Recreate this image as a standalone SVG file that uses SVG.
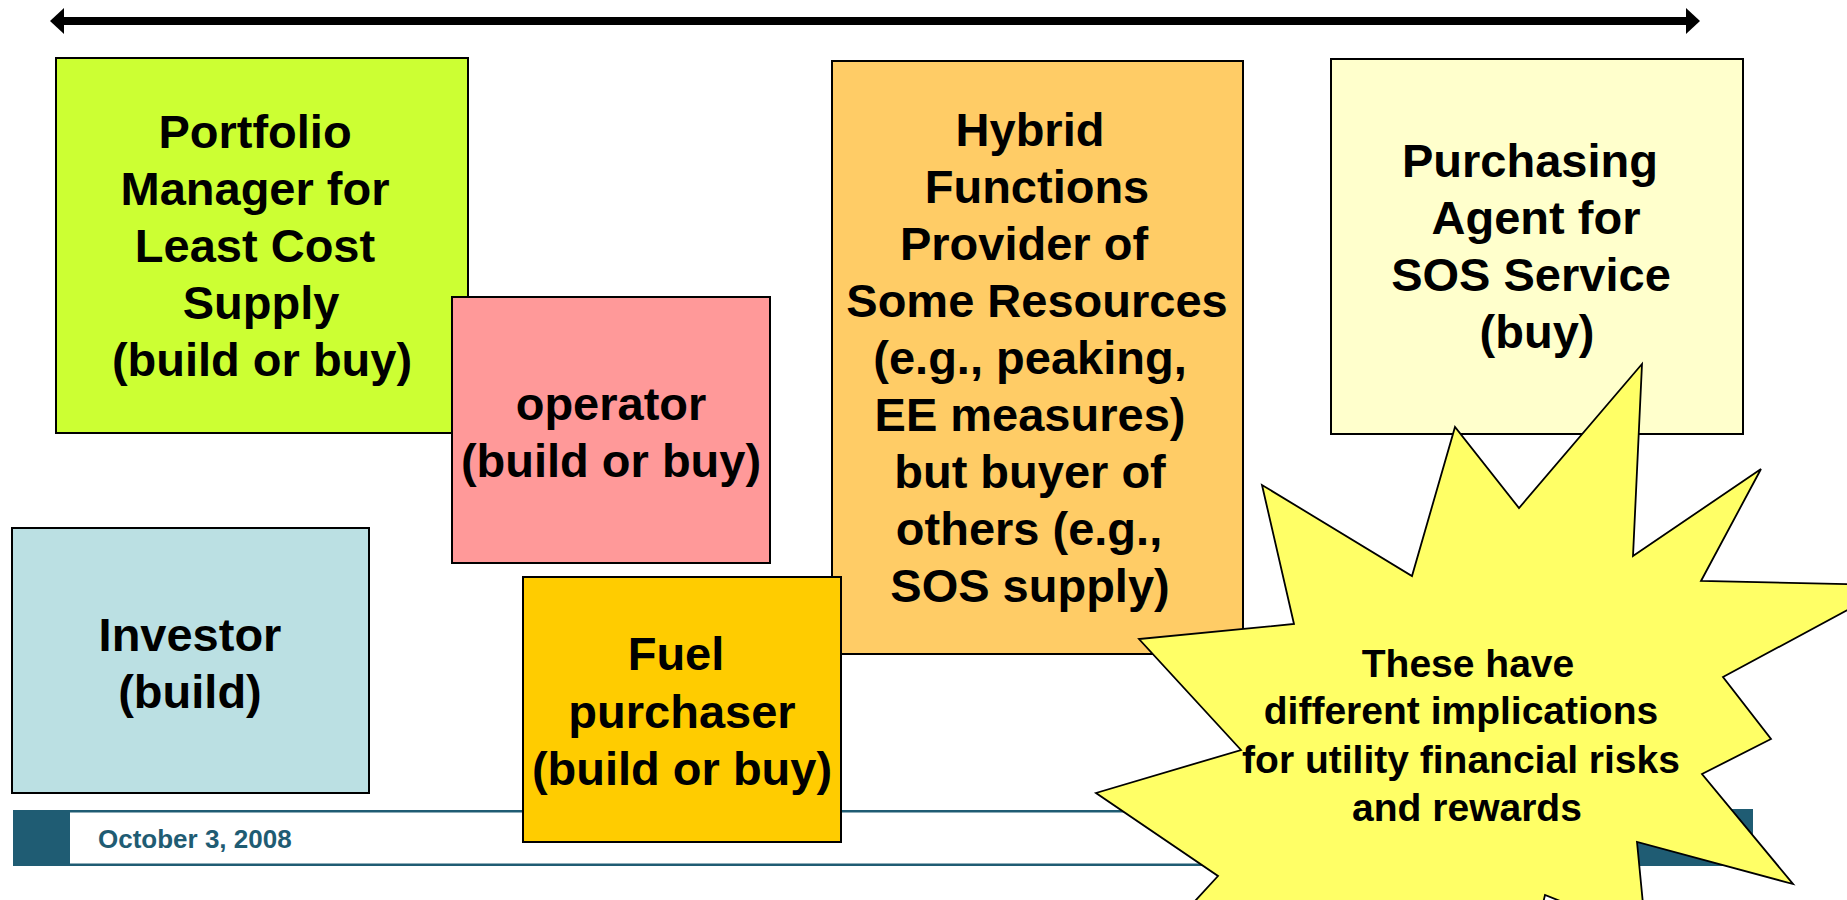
<svg xmlns="http://www.w3.org/2000/svg" width="1847" height="900" viewBox="0 0 1847 900">
  <style>
    .box { stroke: #000; stroke-width: 2; }
    .t { font-family: "Liberation Sans", Arial, sans-serif; font-weight: bold; font-size: 47px; fill: #000; text-anchor: middle; }
    .burst-t { font-family: "Liberation Sans", Arial, sans-serif; font-weight: bold; font-size: 39px; fill: #000; text-anchor: middle; }
    .foot { fill: #1f5c73; }
    .foot-t { font-family: "Liberation Sans", Arial, sans-serif; font-weight: bold; font-size: 26px; fill: #1f5c73; }
  </style>

  <!-- footer band -->
  <g id="footer">
    <rect class="foot" x="13" y="810" width="1740" height="2.5"/>
    <rect class="foot" x="13" y="863.5" width="1740" height="2.5"/>
    <rect class="foot" x="13" y="810" width="57" height="56"/>
    <rect class="foot" x="1600" y="809" width="153" height="57"/>
    <text class="foot-t" x="98" y="848">October 3, 2008</text>
  </g>

  <!-- double-headed spectrum arrow -->
  <g id="connectors">
    <line x1="62" y1="21" x2="1688" y2="21" stroke="#000" stroke-width="8"/>
    <polygon points="50,21 64,8 64,34" fill="#000"/>
    <polygon points="1700,21 1686,8 1686,34" fill="#000"/>
  </g>

  <g id="portfolio-manager">
    <rect class="box" x="56" y="58" width="412" height="375" fill="#ccff33"/>
    <text class="t" x="255" y="148">Portfolio</text>
    <text class="t" x="255" y="205">Manager for</text>
    <text class="t" x="255" y="262">Least Cost</text>
    <text class="t" x="261" y="319">Supply</text>
    <text class="t" x="262" y="376">(build or buy)</text>
  </g>

  <g id="operator">
    <rect class="box" x="452" y="297" width="318" height="266" fill="#ff9999"/>
    <text class="t" x="611" y="420">operator</text>
    <text class="t" x="611" y="477">(build or buy)</text>
  </g>

  <g id="investor">
    <rect class="box" x="12" y="528" width="357" height="265" fill="#bbe0e3"/>
    <text class="t" x="190" y="651">Investor</text>
    <text class="t" x="190" y="708">(build)</text>
  </g>

  <g id="hybrid-functions">
    <rect class="box" x="832" y="61" width="411" height="593" fill="#ffcc66"/>
    <text class="t" x="1030" y="146">Hybrid</text>
    <text class="t" x="1037" y="203">Functions</text>
    <text class="t" x="1024" y="260">Provider of</text>
    <text class="t" x="1037" y="317">Some Resources</text>
    <text class="t" x="1030" y="374">(e.g., peaking,</text>
    <text class="t" x="1030" y="431">EE measures)</text>
    <text class="t" x="1030" y="488">but buyer of</text>
    <text class="t" x="1029" y="545">others (e.g.,</text>
    <text class="t" x="1030" y="602">SOS supply)</text>
  </g>

  <g id="fuel-purchaser">
    <rect class="box" x="523" y="577" width="318" height="265" fill="#ffcc00"/>
    <text class="t" x="676" y="670">Fuel</text>
    <text class="t" x="682" y="728">purchaser</text>
    <text class="t" x="682" y="785">(build or buy)</text>
  </g>

  <g id="purchasing-agent">
    <rect class="box" x="1331" y="59" width="412" height="375" fill="#ffffcc"/>
    <text class="t" x="1530" y="177">Purchasing</text>
    <text class="t" x="1536" y="234">Agent for</text>
    <text class="t" x="1531" y="291">SOS Service</text>
    <text class="t" x="1537" y="348">(buy)</text>
  </g>

  <g id="callout-burst">
    <polygon fill="#ffff66" stroke="#000" stroke-width="1.8" stroke-linejoin="miter"
      points="1642,364 1633,556 1761,469 1701,581 1894,585 1723,677 1771,739 1702,774 1793,884 1637,842 1646,935 1545,895 1525,980 1150,950 1218,876 1096,793 1241,750 1139,639 1294,624 1262,485 1412,576 1455,427 1519,508"/>
    <text class="burst-t" x="1468" y="677">These have</text>
    <text class="burst-t" x="1461" y="724">different implications</text>
    <text class="burst-t" x="1461" y="773">for utility financial risks</text>
    <text class="burst-t" x="1467" y="821">and rewards</text>
  </g>
</svg>
